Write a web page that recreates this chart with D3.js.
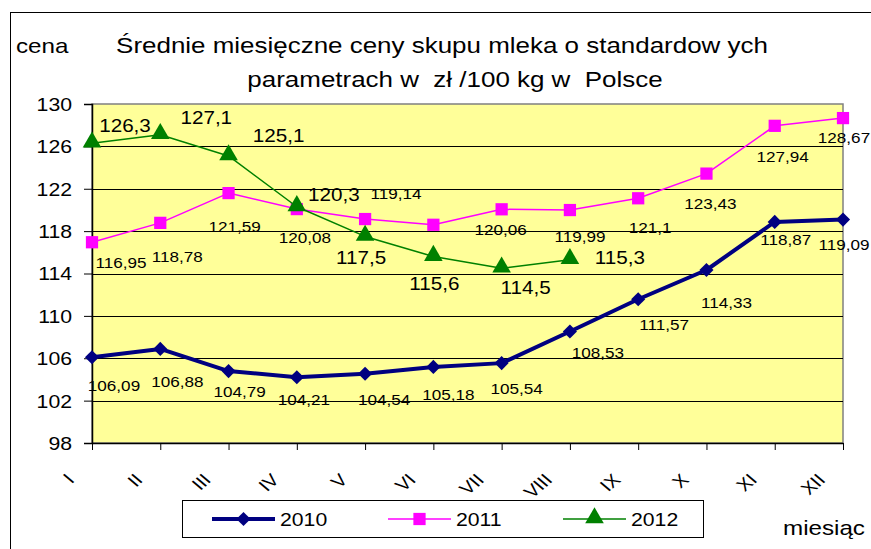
<!DOCTYPE html>
<html>
<head>
<meta charset="utf-8">
<script src="https://cdnjs.cloudflare.com/ajax/libs/d3/7.8.5/d3.min.js"></script>
<style>
  body { margin: 0; background: #fff; }
  text { font-family: "Liberation Sans", Arial, sans-serif; white-space: pre; }
</style>
</head>
<body>
<div id="chart"></div>
<script>
(function () {

var W = 871, H = 549;
var plot = {left: 92, right: 843, top: 104, bottom: 443};
var SX = 1.18; // the original picture is stretched sideways, so is its text

var months = ["I","II","III","IV","V","VI","VII","VIII","IX","X","XI","XII"];

// values + label offsets (dx, dy from the point) as the labels sit in the picture
var series = [
  {name: "2010", color: "#000080", width: 4, symbol: "diamond", fs: 14.5,
   values: [106.09,106.88,104.79,104.21,104.54,105.18,105.54,108.53,111.57,114.33,118.87,119.09],
   labels: [[22,34],[17,38],[11,26],[7,28],[19,31],[15,33],[15,31],[28,27],[26,31],[20,38],[11,23],[1,30]]},
  {name: "2011", color: "#FF00FF", width: 1.5, symbol: "square", fs: 14.5,
   values: [116.95,118.78,121.59,120.08,119.14,118.6,120.06,119.99,121.1,123.43,127.94,128.67],
   labels: [[29,26],[17,39],[6,39],[8,34],[31,-20],null,[-1,26],[10,32],[12,35],[4,35],[8,36],[1,25]]},
  {name: "2012", color: "#008000", width: 1.5, symbol: "triangle", fs: 17.5,
   values: [126.3,127.1,125.1,120.3,117.5,115.6,114.5,115.3],
   labels: [[33,-11],[46,-11],[50,-14],[37,-6],[-4,28],[1,33],[24,26],[50,4]]}
];

var xScale = d3.scalePoint().domain(months).range([plot.left, plot.right]);
var yScale = d3.scaleLinear().domain([98, 130]).range([plot.bottom, plot.top]);

var svg = d3.select("#chart").append("svg")
    .attr("width", W)
    .attr("height", H);

// put a stretched text at x,y
function txt(parent, x, y, size, s, anchor) {
  return parent.append("text")
      .attr("transform", "translate(" + x + "," + y + ") scale(" + SX + ",1)")
      .attr("text-anchor", anchor || "start")
      .style("font-size", size + "px")
      .text(s);
}

svg.append("rect")
    .attr("x", 10.5).attr("y", 12.5)
    .attr("width", W + 20).attr("height", H + 20)
    .attr("fill", "#fff").attr("stroke", "#000");

// title + axis captions
txt(svg, 442, 53, 22, "Średnie miesięczne ceny skupu mleka o standardow ych", "middle");
txt(svg, 455, 87, 22, "parametrach w  zł /100 kg w  Polsce", "middle");
txt(svg, 16, 53, 20.5, "cena");
txt(svg, 783, 535, 20.5, "miesiąc");

// plot area
svg.append("rect")
    .attr("x", plot.left).attr("y", plot.top)
    .attr("width", plot.right - plot.left).attr("height", plot.bottom - plot.top)
    .attr("fill", "#FFFF99").attr("stroke", "#808080").attr("stroke-width", 1.5);

var yTicks = d3.range(98, 131, 4);

svg.append("g").selectAll("line")
    .data(yTicks.filter(function(d) { return d > 98 && d < 130; }))
  .enter().append("line")
    .attr("x1", plot.left).attr("x2", plot.right)
    .attr("y1", function(d) { return Math.round(yScale(d)) + 0.5; })
    .attr("y2", function(d) { return Math.round(yScale(d)) + 0.5; })
    .attr("stroke", "#000").attr("stroke-width", 1);

// y axis
var yAxis = d3.axisLeft(yScale).tickValues(yTicks).tickSize(8).tickPadding(4)
    .tickFormat(d3.format("d"));
var gy = svg.append("g").attr("transform", "translate(" + plot.left + ",0)").call(yAxis);
gy.select(".domain").attr("stroke", "#000").attr("stroke-width", 1.5);
gy.selectAll(".tick line").attr("stroke", "#000");
gy.selectAll("text")
    .style("font-size", "18px").attr("fill", "#000")
    .style("font-family", "'Liberation Sans', Arial, sans-serif")
    .attr("x", 0).attr("dy", "0.36em")
    .attr("transform", "translate(-20,0) scale(" + SX + ",1)");

// x axis
var xAxis = d3.axisBottom(xScale).tickSize(7).tickSizeOuter(0);
var gx = svg.append("g").attr("transform", "translate(0," + plot.bottom + ")").call(xAxis);
gx.select(".domain").attr("stroke", "#000").attr("stroke-width", 1.5);
gx.selectAll(".tick line").attr("stroke", "#000");
gx.selectAll("text")
    .style("font-size", "17px").attr("fill", "#000")
    .style("font-family", "'Liberation Sans', Arial, sans-serif")
    .attr("text-anchor", "end")
    .attr("dy", null).attr("y", 0)
    .attr("transform", "translate(-17,38) scale(" + SX + ",1) rotate(-45)");

// markers
function marker(sel, type, color) {
  if (type === "diamond") {
    sel.append("path").attr("d", d3.symbol().type(d3.symbolSquare).size(100)())
        .attr("transform", "rotate(45)").attr("fill", color);
  } else if (type === "square") {
    sel.append("path").attr("d", d3.symbol().type(d3.symbolSquare).size(150)())
        .attr("fill", color);
  } else {
    sel.append("path").attr("d", d3.symbol().type(d3.symbolTriangle).size(150)())
        .attr("transform", "translate(0,-1)").attr("fill", color);
  }
}

var line = d3.line()
    .x(function(d, i) { return xScale(months[i]); })
    .y(function(d) { return yScale(d); });

series.forEach(function(s) {
  var g = svg.append("g");
  g.append("path").datum(s.values)
      .attr("d", line)
      .attr("fill", "none")
      .attr("stroke", s.color)
      .attr("stroke-width", s.width)
      .attr("stroke-linejoin", "round");

  g.selectAll(".pt").data(s.values).enter().append("g")
      .attr("class", "pt")
      .attr("transform", function(d, i) {
        return "translate(" + xScale(months[i]) + "," + yScale(d) + ")";
      })
      .each(function() { marker(d3.select(this), s.symbol, s.color); });

  var lbls = [];
  s.values.forEach(function(v, i) {
    if (s.labels[i]) lbls.push({v: v, m: months[i], dx: s.labels[i][0], dy: s.labels[i][1]});
  });
  lbls.forEach(function(d) {
    txt(g, xScale(d.m) + d.dx, yScale(d.v) + d.dy, s.fs, String(d.v).replace(".", ","), "middle");
  });
});

// legend
var lg = svg.append("g");
lg.append("rect").attr("x", 182.5).attr("y", 500.5).attr("width", 521).attr("height", 37)
    .attr("fill", "#fff").attr("stroke", "#000");
var legendX = [212, 388, 563];
series.forEach(function(s, i) {
  var x0 = legendX[i], cy = 519;
  lg.append("line").attr("x1", x0).attr("x2", x0 + 63).attr("y1", cy).attr("y2", cy)
      .attr("stroke", s.color).attr("stroke-width", s.width);
  var m = lg.append("g").attr("transform", "translate(" + (x0 + 31.5) + "," + cy + ")");
  marker(m, s.symbol, s.color);
  txt(lg, x0 + 68, cy + 7, 18, s.name);
});

})();
</script>
</body>
</html>
